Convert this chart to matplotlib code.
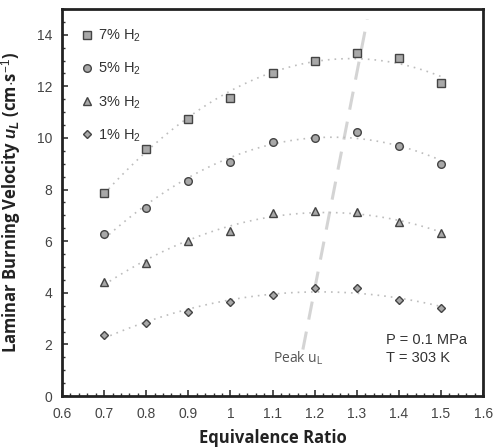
import numpy as np
import matplotlib
matplotlib.use("Agg")
import matplotlib.pyplot as plt
from matplotlib.ticker import MultipleLocator

phi = [0.7, 0.8, 0.9, 1.0, 1.1, 1.2, 1.3, 1.4, 1.5]
h2_7 = [7.88, 9.57, 10.74, 11.56, 12.53, 12.98, 13.28, 13.09, 12.14]
h2_5 = [6.28, 7.27, 8.35, 9.08, 9.86, 10.01, 10.24, 9.70, 8.99]
h2_3 = [4.43, 5.16, 6.02, 6.41, 7.08, 7.17, 7.14, 6.76, 6.31]
h2_1 = [2.36, 2.82, 3.26, 3.63, 3.91, 4.17, 4.17, 3.72, 3.40]
labels = ["7% H$_2$", "5% H$_2$", "3% H$_2$", "1% H$_2$"]
markers = ["s", "o", "^", "D"]
peak_x = [1.172, 1.325]
peak_y = [1.8, 14.6]

plt.rcParams['font.family'] = ['Liberation Sans', 'DejaVu Sans']
plt.rcParams['mathtext.fontset'] = 'custom'
plt.rcParams['mathtext.rm'] = 'Liberation Sans'
plt.rcParams['mathtext.it'] = 'Liberation Sans:italic'
plt.rcParams['mathtext.bf'] = 'Liberation Sans:bold'
plt.rcParams['mathtext.bfit'] = 'Liberation Sans:bold:italic'
fig = plt.figure(figsize=(4.96, 4.48), dpi=100)
ax = fig.add_axes([0.125, 0.116, 0.849, 0.864])

ax.plot(peak_x, peak_y, color='#d4d4d4', lw=2.2, dashes=(6, 4), zorder=1)

sizes = [5.5, 5.5, 5.5, 4.2]
for ys, lab, m, ms in zip([h2_7, h2_5, h2_3, h2_1], labels, markers, sizes):
    x = np.array(phi); y = np.array(ys)
    c = np.polyfit(x, y, 2)
    xf = np.linspace(x.min(), x.max(), 100)
    ax.plot(xf, np.polyval(c, xf), ls=(0, (1, 3)), color='#bdbdbd', lw=1.2, zorder=2)
    ax.plot(x, y, ls='none', marker=m, ms=ms, mfc='#a8a8a8', mec='#444444', mew=1.0,
            label=lab, zorder=3)

ax.set_xlim(0.6, 1.6)
ax.set_ylim(0, 15)
ax.xaxis.set_minor_locator(MultipleLocator(0.02))
ax.yaxis.set_minor_locator(MultipleLocator(0.5))
ax.set_xticks(np.arange(0.6, 1.61, 0.1))
ax.set_xticklabels(["0.6", "0.7", "0.8", "0.9", "1", "1.1", "1.2", "1.3", "1.4", "1.5", "1.6"])
ax.set_yticks([0, 2, 4, 6, 8, 10, 12, 14])
ax.tick_params(which='both', direction='in', top=False, right=False, colors='#333333',
               labelcolor='#444444', labelsize=10)
ax.tick_params(which='major', length=4, width=1.2)
ax.tick_params(which='minor', length=2.5, width=1.0)
ax.tick_params(axis='x', which='major', pad=8)
ax.tick_params(axis='y', which='major', pad=7)
for s in ax.spines.values():
    s.set_linewidth(2)
    s.set_color('#222222')

ax.set_xlabel("Equivalence Ratio", fontsize=12, fontweight='bold', family=['Open Sans', 'DejaVu Sans'],
              color='#222222', labelpad=6)
ax.set_ylabel(r"Laminar Burning Velocity $\mathbfit{u_L}$ (cm$\cdot$s$^{-1}$)", fontsize=12,
              fontweight='bold', family=['Open Sans', 'DejaVu Sans'], color='#222222', labelpad=10)

leg = ax.legend(loc='upper left', frameon=False, fontsize=10.5, handletextpad=0.3,
                labelspacing=1.15, bbox_to_anchor=(0.01, 0.985), handlelength=1.0)
for t in leg.get_texts():
    t.set_color('#333333')

ax.text(1.10, 1.3, "Peak u$_\\mathrm{L}$", fontsize=10, color='#555555', family=['Open Sans', 'DejaVu Sans'])
ax.text(1.37, 2.0, "P = 0.1 MPa", fontsize=10.5, color='#333333')
ax.text(1.37, 1.3, "T = 303 K", fontsize=10.5, color='#333333')

fig.savefig("out.png", dpi=100)
